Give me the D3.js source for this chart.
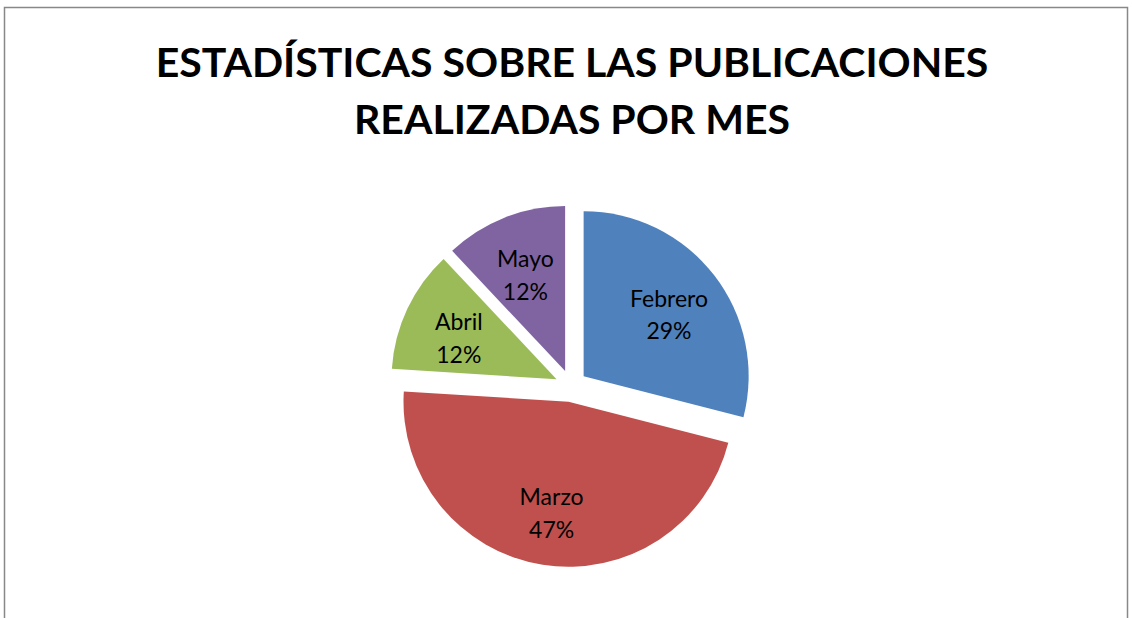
<!DOCTYPE html>
<html>
<head>
<meta charset="utf-8">
<script src="https://cdn.jsdelivr.net/npm/d3@7"></script>
<style>
body { margin: 0; background: #fff; }
</style>
</head>
<body>
<script>
const width = 1132;
const height = 618;

const months = ["Febrero", "Marzo", "Abril", "Mayo"];
const percents = [29, 47, 12, 12];
const colors = ["#4F81BD", "#C0504D", "#9BBB59", "#8064A2"];
const titleLines = ["ESTADÍSTICAS SOBRE LAS PUBLICACIONES", "REALIZADAS POR MES"];

const svg = d3.select("body").append("svg")
  .attr("width", width).attr("height", height);

// chart frame
svg.append("rect")
  .attr("x", 4.5).attr("y", 7.5)
  .attr("width", 1123).attr("height", 640)
  .attr("fill", "#fff").attr("stroke", "#888").attr("stroke-width", 1.5);

svg.selectAll("text.title").data(titleLines).enter().append("text")
  .attr("class", "title")
  .attr("x", 572)
  .attr("y", (d, i) => 77 + i * 57)
  .attr("text-anchor", "middle")
  .attr("font-family", "Lato, 'Open Sans', sans-serif")
  .attr("font-weight", "bold")
  .attr("font-size", 41)
  .attr("fill", "#000")
  .text(d => d);

const cx = 571, cy = 386, r = 165, explode = 16;

const pie = d3.pie().sort(null).value(d => d);
const arcs = pie(percents);
const arc = d3.arc().innerRadius(0).outerRadius(r);
const labelArc = d3.arc().innerRadius(108).outerRadius(108);

const g = svg.append("g").attr("transform", `translate(${cx},${cy})`);

const slice = g.selectAll("g.slice").data(arcs).enter().append("g")
  .attr("class", "slice")
  .attr("transform", d => {
    const a = (d.startAngle + d.endAngle) / 2;
    return `translate(${explode * Math.sin(a)},${-explode * Math.cos(a)})`;
  });

slice.append("path")
  .attr("d", arc)
  .attr("fill", (d, i) => colors[i]);

const lbl = slice.append("text")
  .attr("transform", d => `translate(${labelArc.centroid(d)})`)
  .attr("text-anchor", "middle")
  .attr("font-family", "Lato, 'Open Sans', sans-serif")
  .attr("font-size", 23)
  .attr("fill", "#000");

lbl.append("tspan").attr("x", 0).attr("dy", "-0.15em").text((d, i) => months[i]);
lbl.append("tspan").attr("x", 0).attr("dy", "1.43em").text(d => d.data + "%");
</script>
</body>
</html>
